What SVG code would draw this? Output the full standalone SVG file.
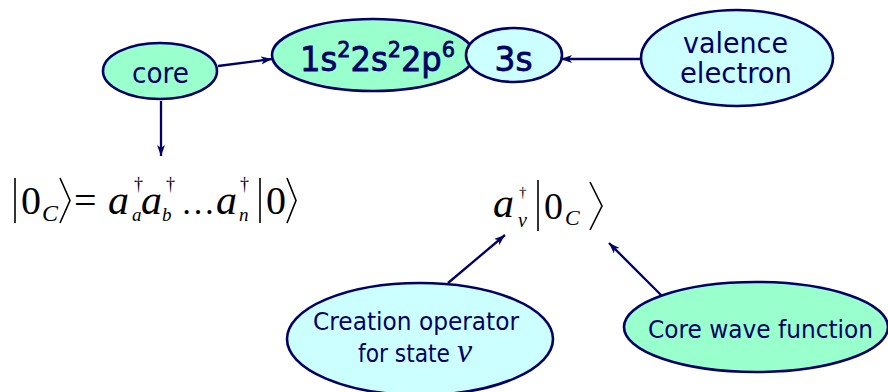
<svg xmlns="http://www.w3.org/2000/svg" width="888" height="392" viewBox="0 0 888 392">
<defs>
<marker id="ah" markerUnits="userSpaceOnUse" markerWidth="12" markerHeight="10" refX="11" refY="4" orient="auto">
<path d="M0,0 L11,4 L0,8 L3,4 Z" fill="#000066"/>
</marker>
<style>
.node{stroke:#000066;stroke-width:2.6}
.mint{fill:#99FFCC}
.cyan{fill:#CCFFFF}
.lbl{font-family:"DejaVu Sans",Verdana,sans-serif;fill:#000066}
.conn{stroke:#000066;stroke-width:2.3;fill:none;marker-end:url(#ah)}
.m{font-family:"Liberation Serif","Times New Roman",serif;fill:#000}
.i{font-style:italic}
.br{stroke:#000;stroke-width:1.6;fill:none}
</style>
</defs>
<rect width="888" height="392" fill="#fff"/>

<g id="connectors">
<line class="conn" x1="218" y1="66" x2="272" y2="59"/>
<line class="conn" x1="640" y1="59" x2="561" y2="59"/>
<line class="conn" x1="161" y1="101" x2="161" y2="156"/>
<line class="conn" x1="448" y1="283" x2="505" y2="235"/>
<line class="conn" x1="663" y1="297" x2="609" y2="243"/>
</g>

<g id="core">
<ellipse class="node mint" cx="160" cy="71" rx="57" ry="28"/>
<text class="lbl" x="160.5" y="83" font-size="28" text-anchor="middle" textLength="57" lengthAdjust="spacingAndGlyphs">core</text>
</g>

<g id="config">
<ellipse class="node mint" cx="373" cy="55" rx="101" ry="36"/>
<text class="lbl" x="300" y="71" font-size="34" textLength="155" lengthAdjust="spacingAndGlyphs" stroke="#000066" stroke-width="0.8">1s<tspan font-size="22" dy="-14">2</tspan><tspan dy="14">2s</tspan><tspan font-size="22" dy="-14">2</tspan><tspan dy="14">2p</tspan><tspan font-size="22" dy="-14">6</tspan></text>
</g>

<g id="valence3s">
<ellipse class="node cyan" cx="514" cy="55" rx="48" ry="27"/>
<text class="lbl" x="513.5" y="71" font-size="34" text-anchor="middle" textLength="38" lengthAdjust="spacingAndGlyphs" stroke="#000066" stroke-width="0.8">3s</text>
</g>

<g id="valence">
<ellipse class="node cyan" cx="737" cy="58" rx="96" ry="48"/>
<text class="lbl" x="735.5" y="53" font-size="28" text-anchor="middle" textLength="105" lengthAdjust="spacingAndGlyphs">valence</text>
<text class="lbl" x="736" y="83" font-size="28" text-anchor="middle" textLength="112" lengthAdjust="spacingAndGlyphs">electron</text>
</g>

<g id="formula-core">
<line class="br" x1="15" y1="178" x2="15" y2="223"/>
<path class="br" d="M60,178 L70,200.5 L60,223"/>
<line class="br" x1="260" y1="178" x2="260" y2="223"/>
<path class="br" d="M287,178 L296,200.5 L287,223"/>
<text class="m" font-size="40"><tspan x="21" y="214">0</tspan><tspan class="i" x="42" y="221" font-size="24">C</tspan><tspan x="74" y="214">=</tspan><tspan class="i" x="108" y="214" font-size="42">a</tspan><tspan x="134" y="190" font-size="18">†</tspan><tspan class="i" x="132" y="221" font-size="19">a</tspan><tspan class="i" x="141" y="214" font-size="42">a</tspan><tspan x="166" y="190" font-size="18">†</tspan><tspan class="i" x="162" y="221" font-size="19">b</tspan><tspan x="181" y="214" font-size="34">…</tspan><tspan class="i" x="216" y="214" font-size="42">a</tspan><tspan x="240" y="190" font-size="18">†</tspan><tspan class="i" x="239" y="221" font-size="19">n</tspan><tspan x="266" y="214">0</tspan></text>
</g>

<g id="formula-valence">
<line class="br" x1="538" y1="180" x2="538" y2="231"/>
<path class="br" d="M590,182 L602,206 L590,230"/>
<text class="m" font-size="38"><tspan class="i" x="493" y="217" font-size="42">a</tspan><tspan x="519" y="197" font-size="15">†</tspan><tspan class="i" x="518" y="227" font-size="20">v</tspan><tspan x="544" y="219">0</tspan><tspan class="i" x="565" y="225" font-size="22">C</tspan></text>
</g>

<g id="creation">
<ellipse class="node cyan" cx="420" cy="339" rx="133" ry="56"/>
<text class="lbl" x="416" y="330" font-size="24" text-anchor="middle" textLength="206" lengthAdjust="spacingAndGlyphs">Creation operator</text>
<text class="lbl" font-size="24"><tspan x="358" y="362" textLength="92" lengthAdjust="spacingAndGlyphs">for state</tspan><tspan x="457" y="362" font-family="Liberation Serif,serif" font-style="italic" font-size="34">v</tspan></text>
</g>

<g id="corewave">
<ellipse class="node mint" cx="756" cy="327" rx="132" ry="45"/>
<text class="lbl" x="648" y="338" font-size="24" textLength="225" lengthAdjust="spacingAndGlyphs">Core wave function</text>
</g>
</svg>
